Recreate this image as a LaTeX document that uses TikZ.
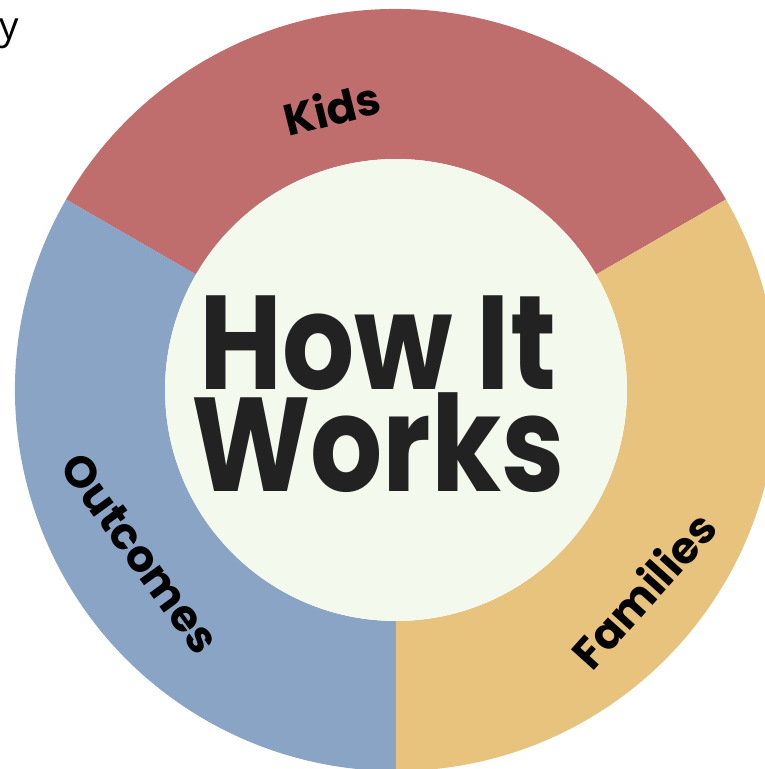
\documentclass[tikz,border=0pt]{standalone}
\usepackage{fontspec}
\newfontfamily\spartan{Poppins}
\newfontfamily\spartanhub{Poppins}[FakeStretch=0.85]
\newfontfamily\plainsans{Open Sans}
\definecolor{kidsred}{HTML}{C06E6D}
\definecolor{outblue}{HTML}{8AA4C5}
\definecolor{famgold}{HTML}{E8C37E}
\definecolor{hubwhite}{HTML}{F4F9EE}
\definecolor{inkdark}{HTML}{222222}
\begin{document}
\begin{tikzpicture}[
    label/.style={font=\spartan\bfseries\fontsize{25}{28}\selectfont, text=black, inner sep=0pt},
    hub/.style={font=\spartanhub\bfseries\fontsize{76}{56}\selectfont, text=inkdark, align=center, inner sep=0pt}
  ]
  \useasboundingbox (-7.92,-7.58) rectangle (7.38,7.8);
  \clip (-7.92,-7.58) rectangle (7.38,7.8);

  % ring segments
  \foreach \a/\b/\c in {30/150/kidsred, 150/270/outblue, 270/390/famgold}
    {
      \fill[\c] (\a:4.62) -- (\a:7.62) arc[start angle=\a, end angle=\b, radius=7.62]
        -- (\b:4.62) arc[start angle=\b, end angle=\a, radius=4.62] -- cycle;
    }
  \fill[hubwhite] (0,0) circle (4.62);

  \node[hub] (title) at (-0.36,-0.08) {How It\\Works};

  \node[label, rotate=14] (kids) at (-1.28,5.64) {Kids};
  \node[label, rotate=-54] (outcomes) at (-5.12,-3.26) {Outcomes};
  \node[label, rotate=48] (families) at (4.94,-4.0) {Families};

  \node[font=\plainsans\fontsize{22}{24}\selectfont, anchor=base east, inner sep=0pt] (cut) at (-7.54,7.0) {y};
\end{tikzpicture}
\end{document}
